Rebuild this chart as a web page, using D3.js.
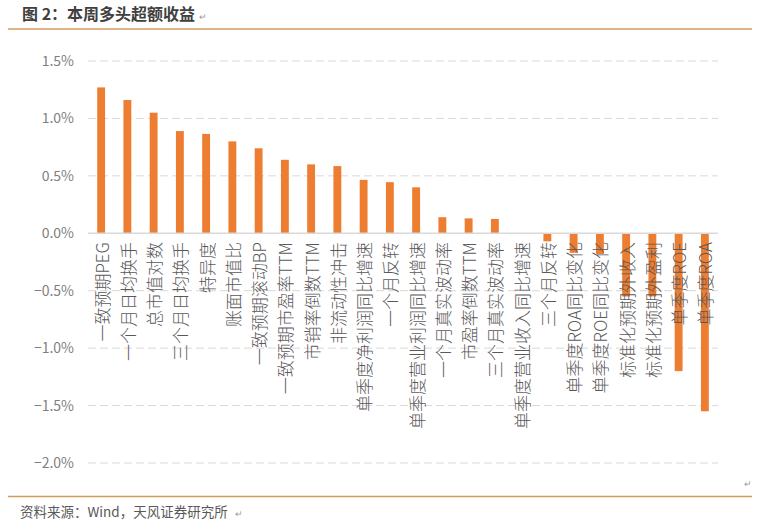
<!DOCTYPE html>
<html><head><meta charset="utf-8">
<script src="https://cdn.jsdelivr.net/npm/d3@7"></script>
<style>
html,body{margin:0;padding:0;background:#fff;}
svg{display:block;}
text{font-family:"Noto Sans CJK SC","Noto Sans",sans-serif;}
</style></head>
<body>
<svg id="c" width="767" height="526"></svg>
<script>
const categories = ["一致预期PEG","一个月日均换手","总市值对数","三个月日均换手","特异度","账面市值比","一致预期滚动BP","一致预期市盈率TTM","市销率倒数TTM","非流动性冲击","单季度净利润同比增速","一个月反转","单季度营业利润同比增速","一个月真实波动率","市盈率倒数TTM","三个月真实波动率","单季度营业收入同比增速","三个月反转","单季度ROA同比变化","单季度ROE同比变化","标准化预期外收入","标准化预期外盈利","单季度ROE","单季度ROA"];
const values = [1.27,1.16,1.05,0.89,0.865,0.80,0.74,0.64,0.60,0.585,0.465,0.445,0.40,0.14,0.13,0.125,0.0,-0.07,-0.17,-0.18,-0.55,-0.55,-1.20,-1.55];
const yTicks = [1.5,1.0,0.5,0.0,-0.5,-1.0,-1.5,-2.0];
const title = "图 2：本周多头超额收益";
const source = "资料来源：Wind，天风证券研究所";

const svg = d3.select("#c");
const x = d3.scaleBand().domain(categories).range([88,718]).paddingInner(0.7).paddingOuter(0.35);
const y = d3.scaleLinear().domain([-2,1.5]).range([463,61]);

// title
svg.append("text").attr("x",22).attr("y",20).attr("font-size",16).attr("font-weight","bold").attr("fill","#404040").text(title);
svg.append("text").attr("x",199).attr("y",20).attr("font-size",9).attr("fill","#999").text("↵");
svg.append("line").attr("x1",8).attr("x2",752).attr("y1",29).attr("y2",29).attr("stroke","#D39A5C").attr("stroke-width",1.5);

// gridlines
svg.append("g").selectAll("line").data(yTicks.filter(d=>d!==0)).join("line")
  .attr("x1",88).attr("x2",718).attr("y1",d=>y(d)).attr("y2",d=>y(d))
  .attr("stroke","#D9D9D9").attr("stroke-width",1).attr("stroke-dasharray","8,4");

// y axis labels
const yAxis = d3.axisLeft(y).tickValues(yTicks).tickSize(0).tickPadding(0)
  .tickFormat(d=>d3.format(".1f")(d)+"%");
const ga = svg.append("g").attr("transform","translate(74,0)").call(yAxis);
ga.select(".domain").remove();
ga.selectAll("text").attr("font-size",14).attr("fill","#7F7F7F").attr("font-family","\"Noto Sans CJK SC\",sans-serif");

// bars
svg.append("g").selectAll("rect").data(values).join("rect")
  .attr("x",(d,i)=>x(categories[i]))
  .attr("width",x.bandwidth())
  .attr("y",d=>Math.min(y(d),y(0)))
  .attr("height",d=>Math.abs(y(d)-y(0)))
  .attr("fill","#ED7D31");

// zero line
svg.append("line").attr("x1",88).attr("x2",718).attr("y1",y(0)).attr("y2",y(0)).attr("stroke","#D9D9D9").attr("stroke-width",1.5);

// category labels
svg.append("g").selectAll("text").data(categories).join("text")
  .attr("transform",d=>`translate(${x(d)+x.bandwidth()/2},242) rotate(-90)`)
  .attr("text-anchor","end").attr("dominant-baseline","central")
  .attr("font-size",17).attr("font-weight",300).attr("fill","#595959").text(d=>d);

// bottom
svg.append("text").attr("x",744).attr("y",487).attr("font-size",9).attr("fill","#999").text("↵");
svg.append("line").attr("x1",8).attr("x2",752).attr("y1",496.5).attr("y2",496.5).attr("stroke","#D39A5C").attr("stroke-width",1.5);
svg.append("text").attr("x",20).attr("y",517).attr("font-size",13.5).attr("fill","#595959").text(source);
svg.append("text").attr("x",235).attr("y",517).attr("font-size",9).attr("fill","#999").text("↵");
</script>
</body></html>
